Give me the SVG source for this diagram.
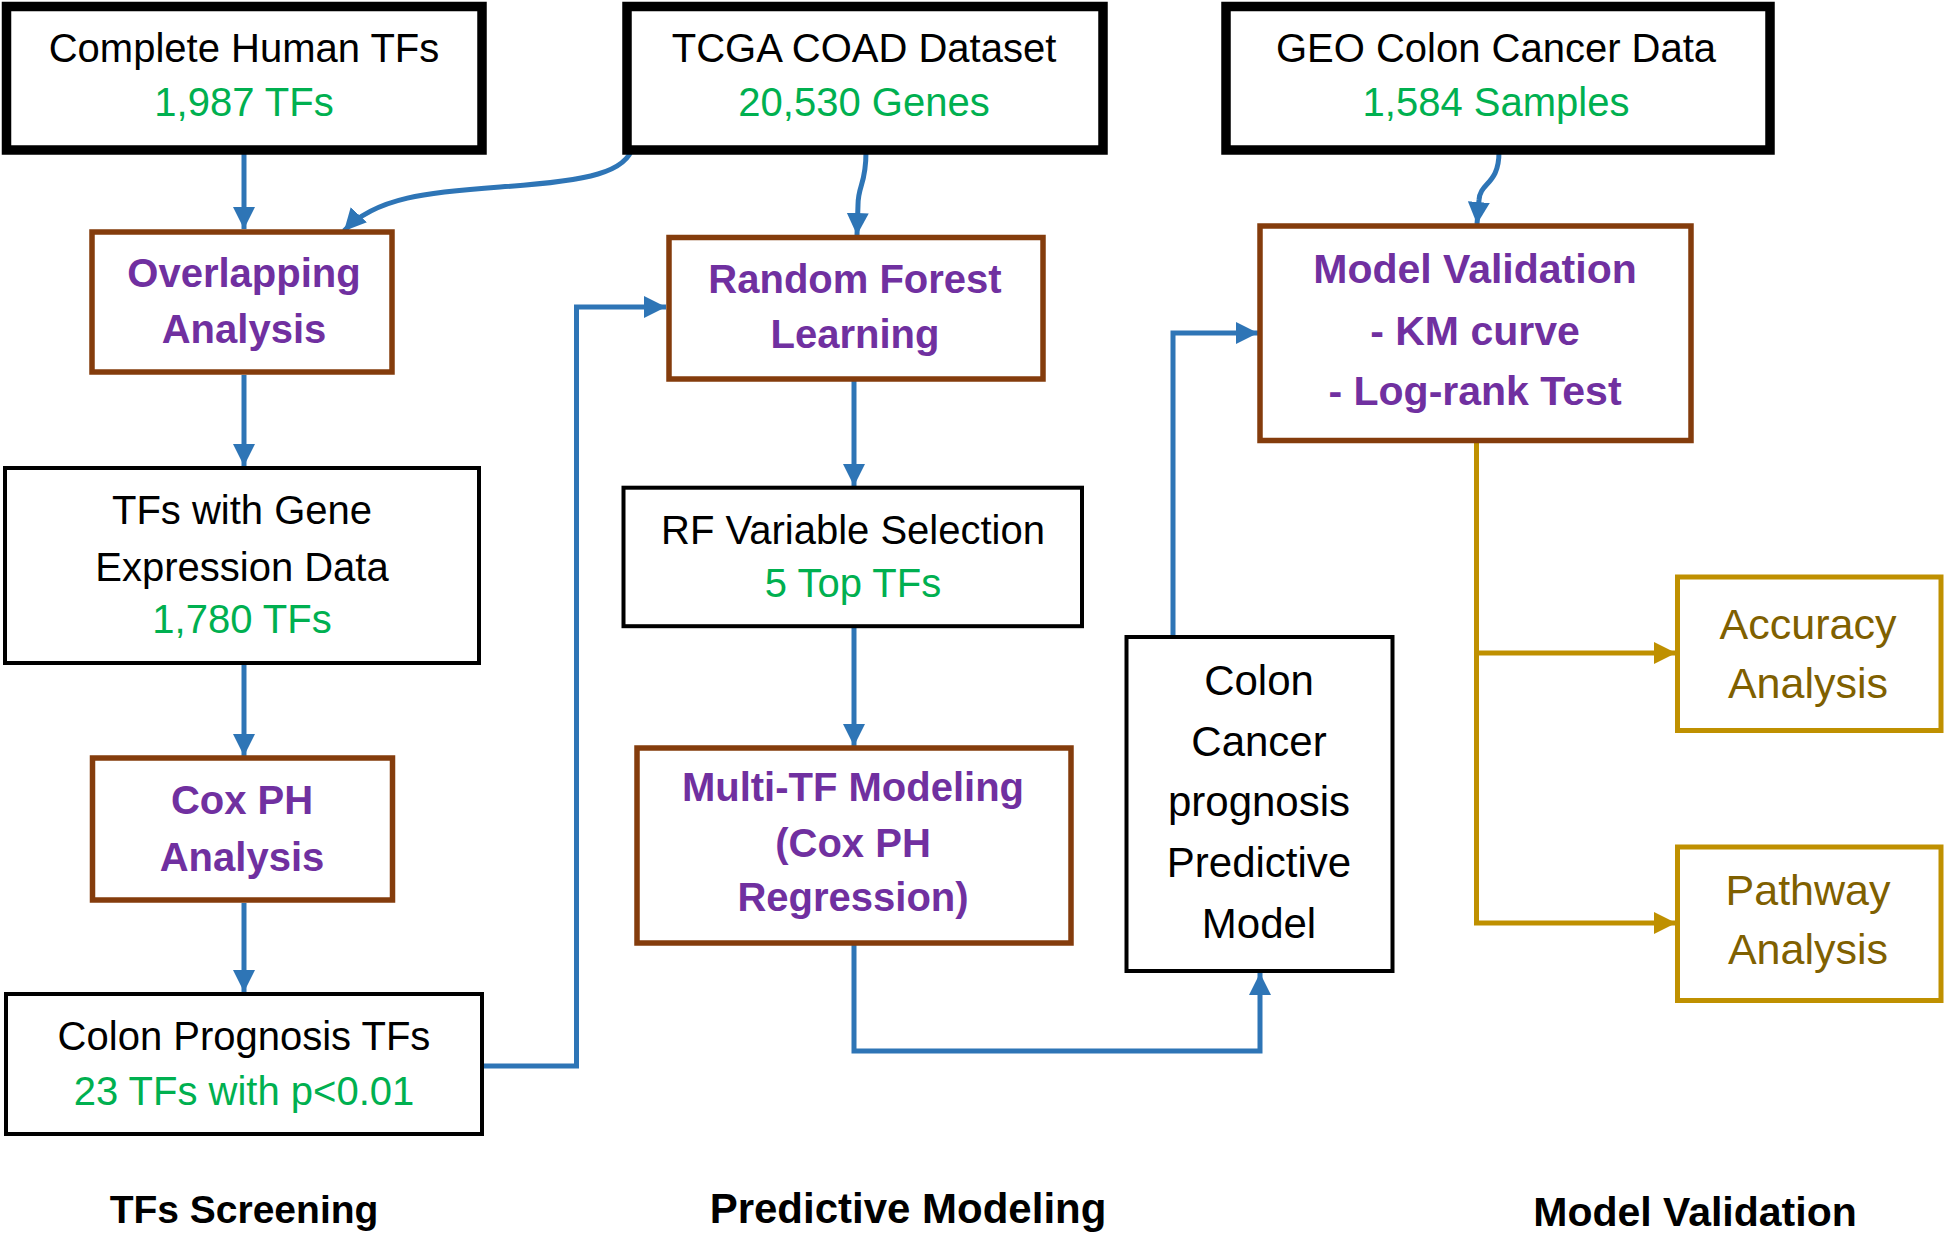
<svg xmlns="http://www.w3.org/2000/svg" width="1946" height="1238" viewBox="0 0 1946 1238">
<style>
text{font-family:"Liberation Sans",Arial,sans-serif;text-anchor:middle}
.t{font-size:40px;fill:#000}
.g{font-size:40px;fill:#00B050}
.p{font-size:40px;font-weight:bold;fill:#7030A0}
.pm{font-size:42px;fill:#000}
.au{font-size:43px;fill:#7F6000}
.f{font-weight:bold;fill:#000}
.bk{fill:#fff;stroke:#000;stroke-width:9.5}
.bt{fill:#fff;stroke:#000;stroke-width:4}
.br{fill:#fff;stroke:#843C0C;stroke-width:5.5}
.gd{fill:#fff;stroke:#BF9000;stroke-width:5}
.cb{fill:none;stroke:#2E75B6;stroke-width:5;marker-end:url(#ab)}
.cg{fill:none;stroke:#BF9000;stroke-width:5}
</style>
<defs>
<marker id="ab" markerUnits="userSpaceOnUse" markerWidth="24" markerHeight="24" refX="22" refY="11" orient="auto">
<path d="M0,0 L22,11 L0,22 z" fill="#2E75B6"/>
</marker>
<marker id="ag" markerUnits="userSpaceOnUse" markerWidth="24" markerHeight="24" refX="22" refY="11" orient="auto">
<path d="M0,0 L22,11 L0,22 z" fill="#BF9000"/>
</marker>
</defs>
<rect width="1946" height="1238" fill="#fff"/>
<g id="connectors">
<path class="cb" d="M244,152 V229"/>
<path class="cb" d="M633,146 C627,172 590,181 500,187 C430,192 375,197 344,231"/>
<path class="cb" d="M866,152 C866,185 858,185 858,205 L857,235"/>
<path class="cb" d="M1499,152 C1499,185 1480,182 1479,200 L1477,224"/>
<path class="cb" d="M244,375 V466"/>
<path class="cb" d="M244,665 V756"/>
<path class="cb" d="M244,903 V992"/>
<path class="cb" d="M484,1066 H576.5 V307 H666"/>
<path class="cb" d="M854,381 V486"/>
<path class="cb" d="M854,628 V746"/>
<path class="cb" d="M854,945 V1051 H1260 V973"/>
<path class="cb" d="M1173,637 V333 H1258"/>
<path class="cg" d="M1476.5,441 V923 H1676" marker-end="url(#ag)"/>
<path class="cg" d="M1476.5,653 H1676" marker-end="url(#ag)"/>
</g>
<g id="n-human-tfs">
<rect class="bk" x="6.5" y="6.5" width="475.5" height="143.5"/>
<text class="t" x="244" y="62">Complete Human TFs</text>
<text class="g" x="244" y="116">1,987 TFs</text>
</g>
<g id="n-tcga">
<rect class="bk" x="627" y="6.5" width="476" height="143.5"/>
<text class="t" x="864" y="62">TCGA COAD Dataset</text>
<text class="g" x="864" y="116">20,530 Genes</text>
</g>
<g id="n-geo">
<rect class="bk" x="1226" y="6.5" width="544" height="143.5"/>
<text class="t" x="1496" y="62">GEO Colon Cancer Data</text>
<text class="g" x="1496" y="116">1,584 Samples</text>
</g>
<g id="n-overlap">
<rect class="br" x="92" y="232" width="300" height="140"/>
<text class="p" x="244" y="287">Overlapping</text>
<text class="p" x="244" y="343">Analysis</text>
</g>
<g id="n-tfs-expr">
<rect class="bt" x="5" y="468" width="474" height="195"/>
<text class="t" x="242" y="524">TFs with Gene</text>
<text class="t" x="242" y="581">Expression Data</text>
<text class="g" x="242" y="633">1,780 TFs</text>
</g>
<g id="n-coxph">
<rect class="br" x="92.5" y="758" width="300" height="142"/>
<text class="p" x="242" y="814">Cox PH</text>
<text class="p" x="242" y="871">Analysis</text>
</g>
<g id="n-colon-tfs">
<rect class="bt" x="6" y="994" width="476" height="140"/>
<text class="t" x="244" y="1050">Colon Prognosis TFs</text>
<text class="g" x="244" y="1105">23 TFs with p&lt;0.01</text>
</g>
<g id="n-rf">
<rect class="br" x="669" y="237.5" width="374" height="141.5"/>
<text class="p" x="855" y="293">Random Forest</text>
<text class="p" x="855" y="348">Learning</text>
</g>
<g id="n-rfvs">
<rect class="bt" x="623.5" y="487.7" width="458.5" height="138.5"/>
<text class="t" x="853" y="544">RF Variable Selection</text>
<text class="g" x="853" y="597">5 Top TFs</text>
</g>
<g id="n-multitf">
<rect class="br" x="637" y="748" width="434" height="195"/>
<text class="p" x="853" y="801">Multi-TF Modeling</text>
<text class="p" x="853" y="857">(Cox PH</text>
<text class="p" x="853" y="911">Regression)</text>
</g>
<g id="n-predictive">
<rect class="bt" x="1126.5" y="637" width="266" height="334"/>
<text class="pm" x="1259" y="695">Colon</text>
<text class="pm" x="1259" y="756">Cancer</text>
<text class="pm" x="1259" y="816">prognosis</text>
<text class="pm" x="1259" y="877">Predictive</text>
<text class="pm" x="1259" y="938">Model</text>
</g>
<g id="n-validation">
<rect class="br" x="1260" y="226" width="431" height="214.5"/>
<text class="p" x="1475" y="283" style="font-size:41px">Model Validation</text>
<text class="p" x="1475" y="345" style="font-size:41px">- KM curve</text>
<text class="p" x="1475" y="405" style="font-size:41px">- Log-rank Test</text>
</g>
<g id="n-accuracy">
<rect class="gd" x="1677.5" y="577" width="263.5" height="153.5"/>
<text class="au" x="1808" y="639">Accuracy</text>
<text class="au" x="1808" y="698">Analysis</text>
</g>
<g id="n-pathway">
<rect class="gd" x="1677.5" y="847" width="263.5" height="153.5"/>
<text class="au" x="1808" y="905">Pathway</text>
<text class="au" x="1808" y="964">Analysis</text>
</g>
<g id="labels">
<text class="f" x="244" y="1223" style="font-size:39px">TFs Screening</text>
<text class="f" x="908" y="1223" style="font-size:42px">Predictive Modeling</text>
<text class="f" x="1695" y="1226" style="font-size:41px">Model Validation</text>
</g>
</svg>
